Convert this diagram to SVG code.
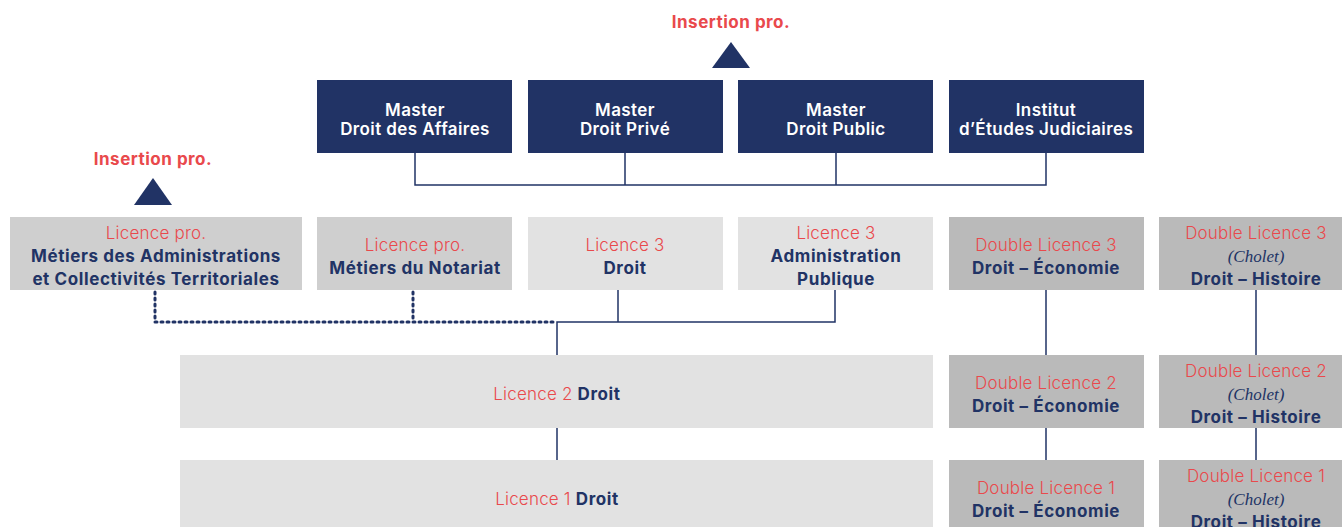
<svg xmlns="http://www.w3.org/2000/svg" width="1342" height="527" viewBox="0 0 1342 527">
<style>
text{font-family:Inter,"Noto Sans","Liberation Sans",sans-serif;font-size:17px;text-anchor:middle}
.w{fill:#ffffff;font-weight:600;letter-spacing:0.4px}
.r{fill:#e9494c;font-weight:300;letter-spacing:0.2px}
.n{fill:#213365;font-weight:700;letter-spacing:0.6px}
.rb{fill:#e9494c;font-weight:700;letter-spacing:0.5px}
.i{fill:#213365;font-family:"Liberation Serif","DejaVu Serif",serif;font-style:italic;font-size:17px}
.m{fill:#213365}
.g1{fill:#cfcfcf}
.g2{fill:#e2e2e2}
.g3{fill:#bababa}
.ln{stroke:#213365;stroke-width:1.5;fill:none}
.dt{stroke:#213365;stroke-width:3;fill:none;stroke-dasharray:2 4;stroke-linecap:round}
</style>
<g id="connectors">
<path class="ln" d="M415 153V185H1046V153M625 153V185M836 153V185"/>
<path class="ln" d="M618 290V322M835 290V322H557V355M557 428V460"/>
<path class="dt" d="M155 292V322H555M413 292V322"/>
<path class="ln" d="M1046 290V355M1046 428V460M1256 290V355M1256 428V460"/>
</g>
<g id="insertion-top"><text class="rb" x="731" y="28">Insertion pro.</text><polygon class="m" points="712,68 731,42 750,68"/></g>
<g id="insertion-left"><text class="rb" x="153" y="165">Insertion pro.</text><polygon class="m" points="134,205 153,178 172,205"/></g>
<g id="master-affaires"><rect class="m" x="317" y="80" width="195" height="73"/><text class="w" x="415" y="116">Master</text><text class="w" x="415" y="135">Droit des Affaires</text></g>
<g id="master-prive"><rect class="m" x="528" y="80" width="195" height="73"/><text class="w" x="625" y="116">Master</text><text class="w" x="625" y="135">Droit Privé</text></g>
<g id="master-public"><rect class="m" x="738" y="80" width="195" height="73"/><text class="w" x="836" y="116">Master</text><text class="w" x="836" y="135">Droit Public</text></g>
<g id="iej"><rect class="m" x="949" y="80" width="195" height="73"/><text class="w" x="1046" y="116">Institut</text><text class="w" x="1046" y="135">d’Études Judiciaires</text></g>
<g id="lp-admin"><rect class="g1" x="10" y="217" width="292" height="73"/><text class="r" x="156" y="239">Licence pro.</text><text class="n" x="156" y="262">Métiers des Administrations</text><text class="n" x="156" y="285">et Collectivités Territoriales</text></g>
<g id="lp-notariat"><rect class="g1" x="317" y="217" width="195" height="73"/><text class="r" x="415" y="251">Licence pro.</text><text class="n" x="415" y="274">Métiers du Notariat</text></g>
<g id="l3-droit"><rect class="g2" x="528" y="217" width="195" height="73"/><text class="r" x="625" y="251">Licence 3</text><text class="n" x="625" y="274">Droit</text></g>
<g id="l3-admin"><rect class="g2" x="738" y="217" width="195" height="73"/><text class="r" x="836" y="239">Licence 3</text><text class="n" x="836" y="262">Administration</text><text class="n" x="836" y="285">Publique</text></g>
<g id="dl3-eco"><rect class="g3" x="949" y="217" width="195" height="73"/><text class="r" x="1046" y="251">Double Licence 3</text><text class="n" x="1046" y="274">Droit – Économie</text></g>
<g id="dl3-hist"><rect class="g3" x="1159" y="217" width="183" height="73"/><text class="r" x="1256" y="239">Double Licence 3</text><text class="i" x="1256" y="262">(Cholet)</text><text class="n" x="1256" y="285">Droit – Histoire</text></g>
<g id="l2-droit"><rect class="g2" x="180" y="355" width="753" height="73"/><text x="557" y="400"><tspan class="r">Licence 2 </tspan><tspan class="n">Droit</tspan></text></g>
<g id="dl2-eco"><rect class="g3" x="949" y="355" width="195" height="73"/><text class="r" x="1046" y="389">Double Licence 2</text><text class="n" x="1046" y="412">Droit – Économie</text></g>
<g id="dl2-hist"><rect class="g3" x="1159" y="355" width="183" height="73"/><text class="r" x="1256" y="377">Double Licence 2</text><text class="i" x="1256" y="400">(Cholet)</text><text class="n" x="1256" y="423">Droit – Histoire</text></g>
<g id="l1-droit"><rect class="g2" x="180" y="460" width="753" height="67"/><text x="557" y="505"><tspan class="r">Licence 1 </tspan><tspan class="n">Droit</tspan></text></g>
<g id="dl1-eco"><rect class="g3" x="949" y="460" width="195" height="67"/><text class="r" x="1046" y="494">Double Licence 1</text><text class="n" x="1046" y="517">Droit – Économie</text></g>
<g id="dl1-hist"><rect class="g3" x="1159" y="460" width="183" height="67"/><text class="r" x="1256" y="482">Double Licence 1</text><text class="i" x="1256" y="505">(Cholet)</text><text class="n" x="1256" y="528">Droit – Histoire</text></g>
</svg>
